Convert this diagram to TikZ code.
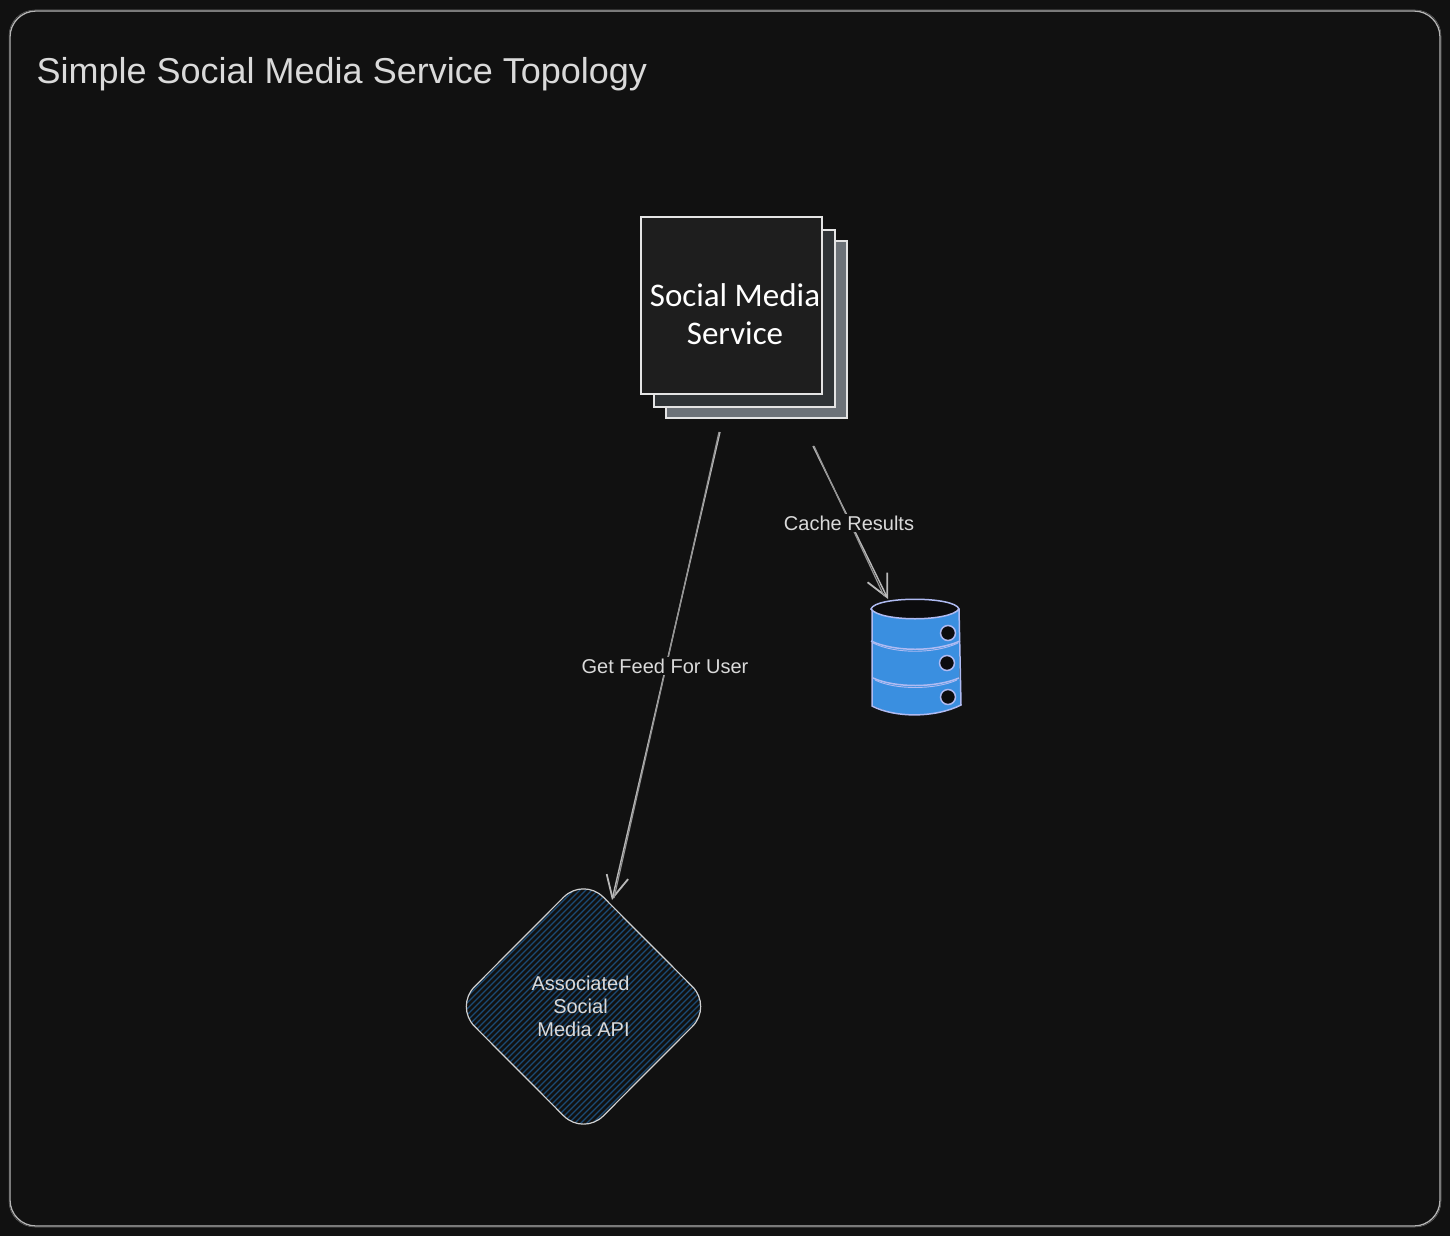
\documentclass[tikz,border=0pt]{standalone}
\usepackage{fontspec}
\setmainfont{Liberation Sans}
\newfontfamily\handfont{Carlito}
\usetikzlibrary{arrows.meta,shapes.geometric,calc}
\definecolor{bgc}{HTML}{111111}
\definecolor{framec}{HTML}{B5B5B5}
\definecolor{txt}{HTML}{DADADA}
\definecolor{backc}{HTML}{6C7278}
\definecolor{midc}{HTML}{2F3336}
\definecolor{frontc}{HTML}{1E1E1E}
\definecolor{sheetline}{HTML}{E4E4E4}
\definecolor{dbfill}{HTML}{3A8FE0}
\definecolor{dbline}{HTML}{AFBBF2}
\definecolor{dbdark}{HTML}{0C0C0E}
\definecolor{hatchc}{HTML}{1B4A75}
\definecolor{apiline}{HTML}{D0D0D0}
\definecolor{wirec}{HTML}{B8B8B8}
\tikzset{
  x=1pt,y=-1pt,
  frame/.style={draw=framec,line width=1.3pt,rounded corners=26pt},
  frametwo/.style={draw=framec!60!black,line width=0.5pt,rounded corners=26pt},
  sheet/.style={draw=sheetline,line width=1.4pt,minimum width=181pt,minimum height=177pt,inner sep=0pt},
  wire/.style={draw=wirec,line width=1.4pt,-{Straight Barb[length=22pt,width=22pt,line width=1.8pt]}},
  wiretwo/.style={draw=wirec!80!black,line width=1.2pt},
  wirelabel/.style={fill=bgc,text=txt,font=\fontsize{20pt}{23pt}\selectfont,inner sep=2pt},
  dbedge/.style={draw=dbline,line width=1.5pt},
  dbedgetwo/.style={draw=dbline,line width=0.9pt},
  hole/.style={circle,draw=dbline,fill=dbdark,line width=1.5pt,minimum size=15pt,inner sep=0pt},
  apibox/.style={shape=diamond,draw=apiline,line width=1.2pt,rounded corners=28pt,minimum width=258pt,minimum height=259pt,inner sep=0pt,
    text=txt,align=center,font=\fontsize{20pt}{23pt}\selectfont,
    path picture={\foreach \i in {-300,-294,...,300}{\draw[hatchc,line width=1.1pt] (\i-140,140) -- (\i+140,-140);}}},
}
\begin{document}
\begin{tikzpicture}
\useasboundingbox (0,0) rectangle (1450,1236);
\fill[bgc] (0,0) rectangle (1450,1236);
\draw[frame] (10,11) rectangle (1440,1226);
\draw[frametwo] (9,10) rectangle (1441,1227);
\node[anchor=west,text=txt,inner sep=0pt,font=\fontsize{36pt}{40pt}\selectfont] (title) at (36.5,74) {Simple Social Media Service Topology};

% stacked service
\node[sheet,fill=backc] (back) at (756.5,329.5) {};
\node[sheet,fill=midc] (mid) at (744.5,318.5) {};
\node[sheet,fill=frontc] (service) at (731.5,305.5) {};
\node[text=white,align=center,inner sep=0pt,font=\handfont\fontsize{33pt}{38pt}\selectfont] (servicetext) at (735,314) {Social Media\\Service};

% api
\node[apibox] (api) at (583.5,1006.5) {Associated\hspace{6pt}\mbox{}\\Social\hspace{6pt}\mbox{}\\Media API};

% database
\node[minimum width=88pt,minimum height=116pt,inner sep=0pt] (db) at (915.5,657) {};
\path[fill=dbfill] (872,609) -- (872,705) .. controls (895,718) and (935,718) .. (960,705) -- (959,609) -- cycle;
\draw[dbedge] (872,609) -- (872,706) .. controls (895,718) and (935,718) .. (961,705) -- (959,609);
\draw[dbedge] (871,641) .. controls (895,652) and (935,652) .. (960,641);
\draw[dbedgetwo] (873,643) .. controls (895,654) and (935,654) .. (958,643);
\draw[dbedge] (873,678) .. controls (895,688) and (935,688) .. (959,678);
\draw[dbedgetwo] (875,680) .. controls (895,690) and (935,690) .. (957,680);
\draw[dbedge,fill=dbdark] (871,609) .. controls (875,596) and (955,596) .. (959,609) .. controls (950,622) and (880,622) .. (871,609) -- cycle;
\node[hole] (h1) at (948,633) {};
\node[hole] (h2) at (947,663) {};
\node[hole] (h3) at (948,697) {};

% connectors
\coordinate (svcA) at (720,432);
\coordinate (apiA) at (612,900);
\coordinate (svcB) at (813,446);
\coordinate (dbA) at (888,599);
\draw[wire] (svcA) -- (apiA);
\draw[wiretwo] ($(svcA)+(-1,0)$) -- ($(apiA)+(2,-2)$);
\draw[wire] (svcB) -- (dbA);
\draw[wiretwo] ($(svcB)+(1,0)$) -- ($(dbA)+(-4,-3)$);
\node[wirelabel] (lblA) at (665,666) {Get Feed For User};
\node[wirelabel] (lblB) at (849,523) {Cache Results};
\end{tikzpicture}
\end{document}
